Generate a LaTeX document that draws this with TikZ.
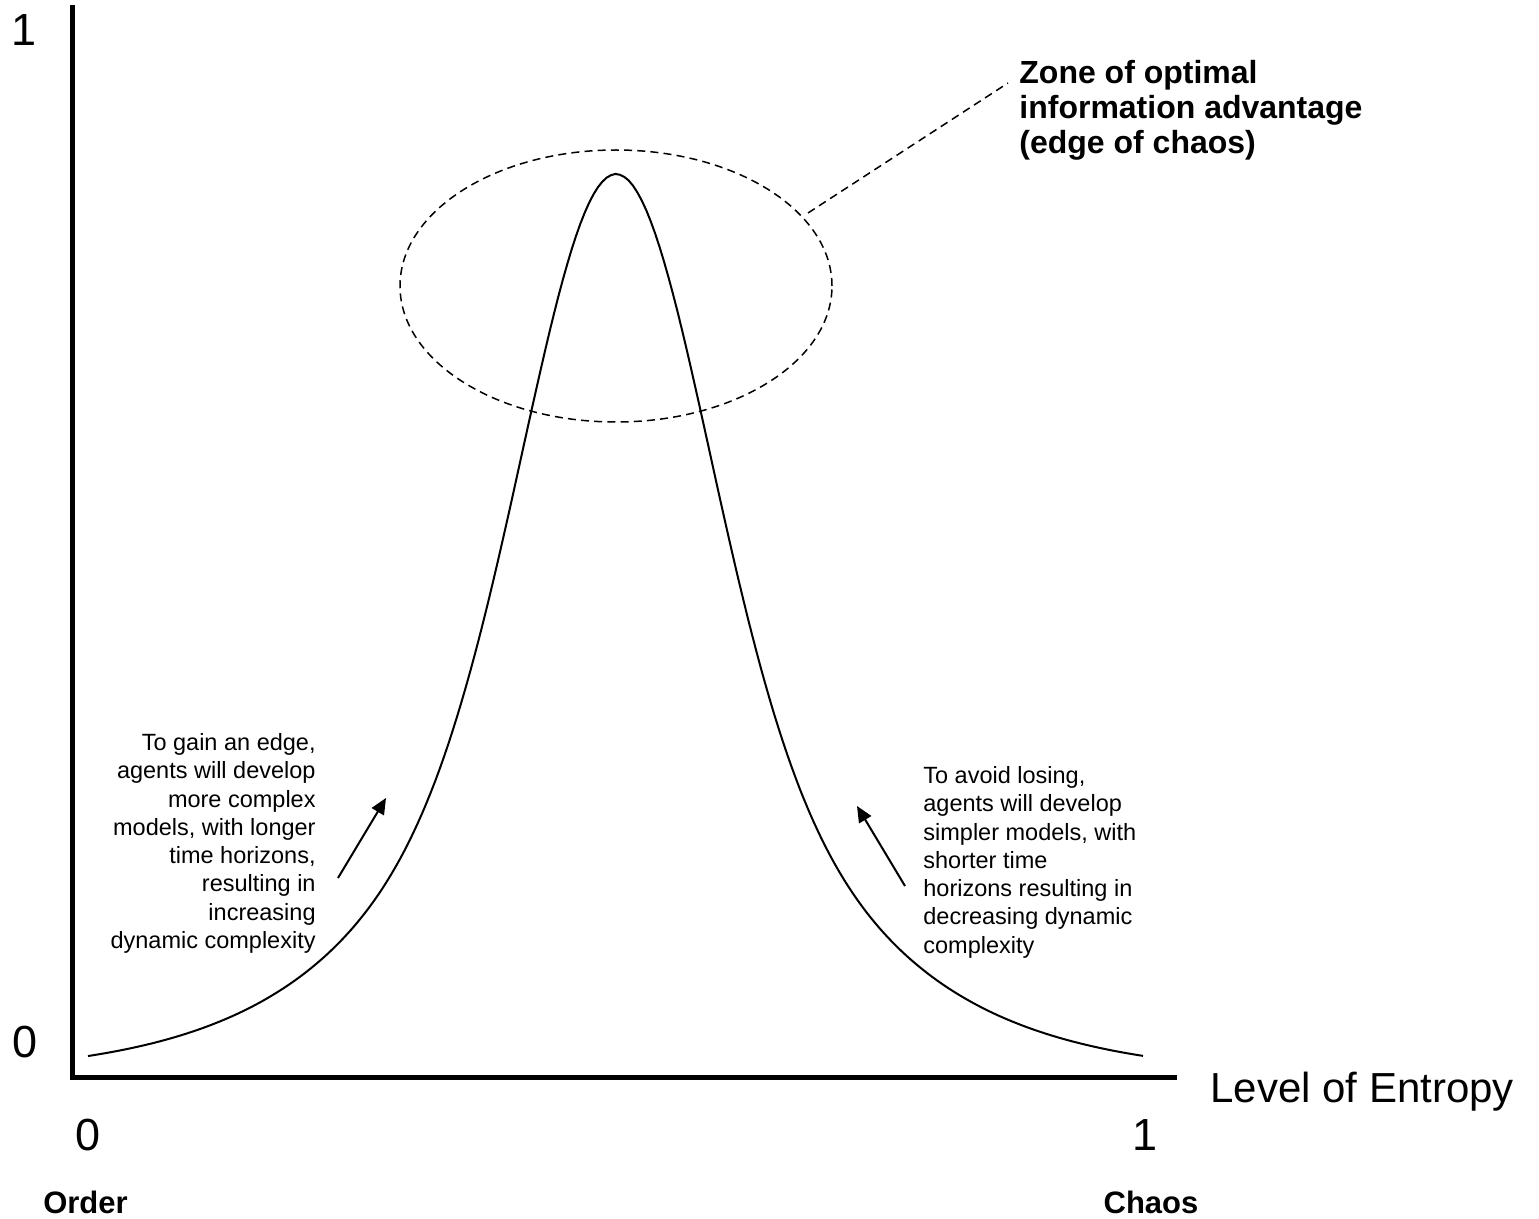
\documentclass[tikz,border=0pt]{standalone}
\usepackage{fontspec}
\setmainfont{Liberation Sans}
\usetikzlibrary{arrows.meta,shapes.geometric}
\tikzset{
  axisline/.style={line width=2.5pt, line join=miter},
  curveline/.style={line width=1pt, line join=round},
  zoneline/.style={line width=0.75pt, dash pattern=on 4pt off 2.6pt},
  arrowline/.style={line width=1pt, -{Triangle[length=8pt,width=7pt]}},
  bignum/.style={inner sep=0pt, anchor=base, font=\fontsize{22.5}{27}\selectfont},
  axistitle/.style={inner sep=0pt, anchor=base west, font=\fontsize{21}{25}\selectfont},
  endlabel/.style={inner sep=0pt, anchor=base, font=\bfseries\fontsize{15.5}{18}\selectfont},
  zonelabel/.style={inner sep=0pt, anchor=north west, align=left, font=\bfseries\fontsize{16}{17.5}\selectfont},
  notelabel/.style={inner sep=0pt, font=\fontsize{11.75}{14.15}\selectfont}
}
\begin{document}
\begin{tikzpicture}[x=0.5pt,y=-0.5pt]
\useasboundingbox (0,0) rectangle (1539,1219);
% axes
\coordinate (ytop) at (72,5);
\coordinate (origin) at (72,1077);
\coordinate (xend) at (1177,1077);
\draw[axisline] (ytop) -- (origin) -- (xend);
% labels
\node[bignum] (y1) at (24,46) {1};
\node[bignum] (y0) at (25,1057) {0};
\node[bignum] (x0) at (88,1150) {0};
\node[bignum] (x1) at (1145,1150) {1};
\node[axistitle] (xtitle) at (1210,1102) {Level of Entropy};
\node[endlabel] (order) at (85.5,1213) {Order};
\node[endlabel] (chaos) at (1151,1213) {Chaos};
% curve
\draw[curveline] plot[domain=-528:527, samples=241]
  ({616+\x}, {1077-903*(0.42*exp(-(\x/120)*(\x/120))+0.58/cosh(\x/135))});
% zone ellipse and leader
\node[draw, zoneline, ellipse, minimum width=216pt, minimum height=136pt, inner sep=0pt] (zone) at (616,286) {};
\coordinate (leadA) at (808,213);
\coordinate (leadB) at (1008,83);
\draw[zoneline] (leadA) -- (leadB);
\node[zonelabel] (zonetext) at (1019,60) {Zone of optimal\\information advantage\\(edge of chaos)};
% notes
\node[notelabel, anchor=north east, align=right] (leftnote) at (316,733)
 {To gain an edge,\\agents will develop\\more complex\\models, with longer\\time horizons,\\resulting in\\increasing\\dynamic complexity};
\node[notelabel, anchor=north west, align=left] (rightnote) at (923,766)
 {To avoid losing,\\agents will develop\\simpler models, with\\shorter time\\horizons resulting in\\decreasing dynamic\\complexity};
% arrows
\coordinate (la0) at (338,878);
\coordinate (la1) at (386,798);
\coordinate (ra0) at (905,886);
\coordinate (ra1) at (857,806);
\draw[arrowline] (la0) -- (la1);
\draw[arrowline] (ra0) -- (ra1);
\end{tikzpicture}
\end{document}
